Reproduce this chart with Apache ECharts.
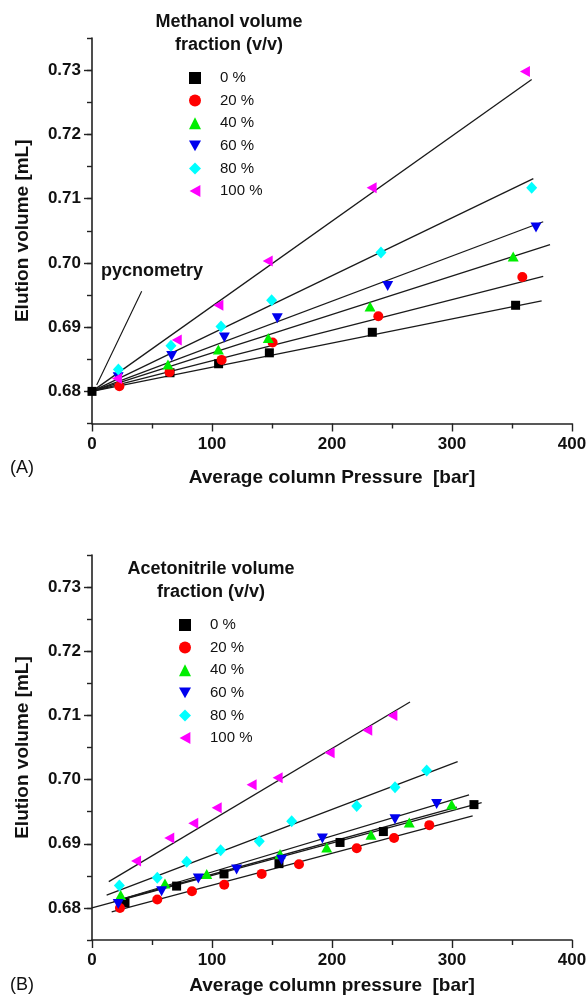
<!DOCTYPE html>
<html><head><meta charset="utf-8">
<script src="https://cdn.jsdelivr.net/npm/echarts@6/dist/echarts.min.js"></script>
<style>html,body{margin:0;padding:0;background:#fff}#c{width:588px;height:1001px}</style>
</head><body><div id="c"></div>
<script>
// ---------- DATA ----------
const fractions = ['0 %', '20 %', '40 %', '60 %', '80 %', '100 %'];
const xTickValues = [0, 100, 200, 300, 400];
const yTickValues = [0.68, 0.69, 0.70, 0.71, 0.72, 0.73];

// Panel A: methanol
const methA0   = [[0, 0.6800], [65.0, 0.6829], [105.5, 0.6843], [147.8, 0.6860], [233.6, 0.6892], [353.0, 0.6934]];
const methA20  = [[22.8, 0.6808], [64.6, 0.6830], [108.0, 0.6849], [150.5, 0.6876], [238.6, 0.6917], [358.6, 0.6978]];
const methA40  = [[63.3, 0.6842], [105.3, 0.6865], [146.9, 0.6883], [231.7, 0.6932], [351.0, 0.7010]];
const methA60  = [[21.8, 0.6822], [66.4, 0.6855], [110.3, 0.6884], [154.4, 0.6914], [246.4, 0.6964], [370.0, 0.7055]];
const methA80  = [[22.0, 0.6834], [65.8, 0.6871], [107.5, 0.6901], [149.7, 0.6942], [240.8, 0.7016], [366.4, 0.7117]];
const methA100 = [[20.8, 0.6820], [70.6, 0.6880], [105.3, 0.6934], [146.4, 0.7003], [233.0, 0.7117], [360.8, 0.7298]];
const fitA0   = [[0, 0.680], [374.7, 0.6941]];
const fitA20  = [[0, 0.680], [376.0, 0.6979]];
const fitA40  = [[0, 0.680], [381.7, 0.70285]];
const fitA60  = [[0, 0.680], [376.0, 0.7064]];
const fitA80  = [[0, 0.680], [367.8, 0.7131]];
const fitA100 = [[0, 0.680], [366.4, 0.72855]];
const pycnoArrow = [[41.4, 0.6956], [3.9, 0.6810]];

// Panel B: acetonitrile
const acnB0   = [[27.5, 0.6808], [70.5, 0.6834], [110.0, 0.6853], [155.8, 0.6869], [206.7, 0.6902], [242.8, 0.6919], [318.3, 0.6961]];
const acnB20  = [[23.3, 0.6800], [54.4, 0.6813], [83.3, 0.6826], [110.2, 0.6836], [141.4, 0.6853], [172.5, 0.6868], [220.6, 0.6893], [251.7, 0.6909], [281.1, 0.6929]];
const acnB40  = [[23.9, 0.6820], [60.8, 0.6838], [95.6, 0.6853], [156.7, 0.6884], [195.6, 0.6894], [232.5, 0.6914], [264.4, 0.6933], [299.7, 0.6961]];
const acnB60  = [[21.9, 0.6806], [58.0, 0.6826], [88.6, 0.6846], [120.5, 0.6860], [158.0, 0.6875], [192.0, 0.6908], [252.5, 0.6938], [287.2, 0.6962]];
const acnB80  = [[22.8, 0.6835], [54.4, 0.6847], [78.9, 0.6872], [107.2, 0.6890], [139.4, 0.6904], [166.4, 0.6935], [220.6, 0.6959], [252.5, 0.6988], [278.9, 0.7014]];
const acnB100 = [[36.7, 0.6873], [64.4, 0.6909], [84.4, 0.6932], [103.9, 0.6956], [133.0, 0.6992], [154.7, 0.7003], [198.0, 0.7042], [229.4, 0.7077], [250.3, 0.7100]];
const fitB0   = [[0, 0.6800], [324.7, 0.6964]];
const fitB20  = [[16.4, 0.6794], [317.2, 0.69435]];
const fitB40  = [[18.0, 0.6810], [304.0, 0.6957]];
const fitB60  = [[18.0, 0.6810], [314.2, 0.6976]];
const fitB80  = [[12.2, 0.6820], [304.7, 0.7028]];
const fitB100 = [[14.0, 0.6841], [265.0, 0.7121]];

// ---------- STYLE ----------
const colors = ['#000000', '#ff0000', '#00ee00', '#0000ee', '#00ffff', '#ff00ff'];
const symbols = ['rect', 'circle', 'triangle', 'path://M0,0L10,0L5,9Z', 'diamond', 'path://M0,5L9,0L9,10Z'];
const symSizes = [9, 10, [11, 10], [11, 10], [11, 12], [10, 11]];
const FONT = 'Liberation Sans, Arial, Helvetica, sans-serif';

const pointsA = [methA0, methA20, methA40, methA60, methA80, methA100];
const fitsA = [fitA0, fitA20, fitA40, fitA60, fitA80, fitA100];
const pointsB = [acnB0, acnB20, acnB40, acnB60, acnB80, acnB100];
const fitsB = [fitB0, fitB20, fitB40, fitB60, fitB80, fitB100];

const grids = [
  {left: 92, top: 38, width: 480, height: 385.5, containLabel: false, outerBoundsMode: 'none'},
  {left: 92, top: 555, width: 480, height: 385, containLabel: false, outerBoundsMode: 'none'}
];
const xNames = ['Average column Pressure  [bar]', 'Average column pressure  [bar]'];
const xNameGaps = [45, 36];

function xAxisFor(i) {
  return {
    type: 'value', gridIndex: i, position: 'bottom', min: 0, max: 400, interval: 100,
    name: xNames[i], nameLocation: 'middle', nameGap: xNameGaps[i],
    nameTextStyle: {fontFamily: FONT, fontWeight: 'bold', fontSize: 19, color: '#111'},
    axisLine: {show: true, onZero: false, lineStyle: {color: '#222', width: 1.6}},
    axisTick: {show: true, inside: false, length: 8, lineStyle: {color: '#222', width: 1.4}},
    minorTick: {show: true, splitNumber: 2, length: 5, lineStyle: {color: '#222', width: 1.4}},
    axisLabel: {margin: 12, fontFamily: FONT, fontWeight: 'bold', fontSize: 17, color: '#111'},
    splitLine: {show: false}
  };
}
function yAxesFor(i) {
  return [{
    type: 'value', gridIndex: i, position: 'left', offset: 0, min: 0.675, max: 0.735, interval: 0.005,
    axisLine: {show: true, onZero: false, lineStyle: {color: '#222', width: 1.6}},
    axisTick: {show: true, length: 5, lineStyle: {color: '#222', width: 1.4}},
    axisLabel: {show: false}, splitLine: {show: false}
  }, {
    type: 'value', gridIndex: i, position: 'left', offset: 0, min: 0.675, max: 0.735,
    name: 'Elution volume [mL]', nameLocation: 'middle', nameGap: 60,
    nameTextStyle: {fontFamily: FONT, fontWeight: 'bold', fontSize: 19, color: '#111'},
    axisLine: {show: false, onZero: false},
    axisTick: {show: true, length: 8, customValues: yTickValues, lineStyle: {color: '#222', width: 1.4}},
    axisLabel: {margin: 11, customValues: yTickValues, fontFamily: FONT, fontWeight: 'bold', fontSize: 17, color: '#111',
      formatter: v => Number(v).toFixed(2)},
    splitLine: {show: false}
  }];
}

const series = [];
function addPanel(p, pts, fits, prefix) {
  fits.forEach((f, k) => {
    const s = {
      type: 'line', xAxisIndex: p, yAxisIndex: p * 2, data: f, showSymbol: false, symbol: 'none',
      silent: true, z: 2, lineStyle: {color: '#1a1a1a', width: 1.3}
    };
    if (p === 0 && k === 0) {
      s.markLine = {
        silent: true, symbol: ['none', 'arrow'], symbolSize: [0, 9],
        lineStyle: {color: '#111', width: 1.1, type: 'solid'}, label: {show: false},
        data: [[{coord: pycnoArrow[0]}, {coord: pycnoArrow[1]}]]
      };
    }
    series.push(s);
  });
  pts.forEach((d, k) => {
    series.push({
      type: 'scatter', name: prefix + fractions[k], xAxisIndex: p, yAxisIndex: p * 2, data: d,
      symbol: symbols[k], symbolSize: symSizes[k], z: 5 + k,
      itemStyle: {color: colors[k], opacity: 1}
    });
  });
}
addPanel(0, pointsA, fitsA, 'A');
addPanel(1, pointsB, fitsB, 'B');

function legendFor(i, left, top, prefix) {
  return {
    orient: 'vertical', left: left, top: top, padding: 0, itemGap: 6.6,
    itemWidth: 12, itemHeight: 12, selectedMode: false,
    data: fractions.map(f => prefix + f),
    formatter: n => '{g|}' + n.slice(1),
    textStyle: {fontFamily: FONT, fontSize: 15, color: '#111', lineHeight: 16,
      rich: {g: {width: 14}}}
  };
}

const txt = (x, y, t, size, weight, align) => ({
  type: 'text', x: x, y: y,
  style: {text: t, font: (weight || 'normal') + ' ' + size + 'px ' + FONT, fill: '#111',
    textAlign: align || 'center', textVerticalAlign: 'middle'}
});

const option = {
  animation: false,
  backgroundColor: '#fff',
  grid: grids,
  xAxis: [xAxisFor(0), xAxisFor(1)],
  yAxis: yAxesFor(0).concat(yAxesFor(1)),
  legend: [legendFor(0, 189, 70, 'A'), legendFor(1, 179, 617, 'B')],
  series: series,
  graphic: [
    txt(229, 22, 'Methanol volume', 18, 'bold'),
    txt(229, 45, 'fraction (v/v)', 18, 'bold'),
    txt(211, 569, 'Acetonitrile volume', 18, 'bold'),
    txt(211, 592, 'fraction (v/v)', 18, 'bold'),
    txt(101, 271, 'pycnometry', 18, 'bold', 'left'),
    txt(22, 468, '(A)', 18, 'normal'),
    txt(22, 985, '(B)', 18, 'normal')
  ]
};
const chart = echarts.init(document.getElementById('c'), null, {renderer: 'canvas'});
chart.setOption(option);
</script></body></html>
